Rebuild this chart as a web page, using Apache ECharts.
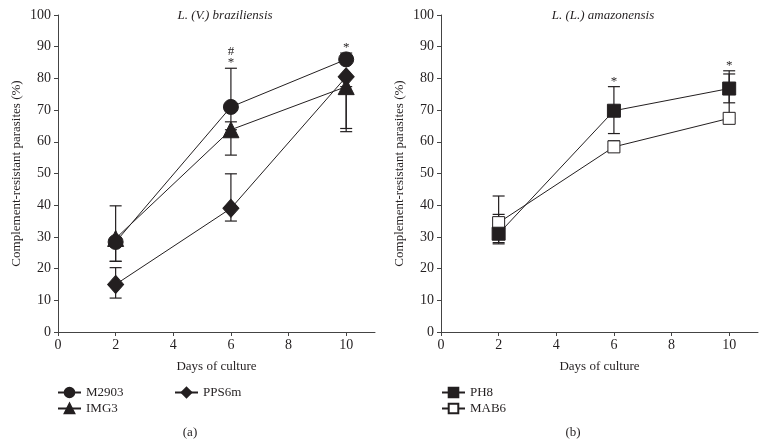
<!DOCTYPE html>
<html>
<head>
<meta charset="utf-8">
<script src="https://cdn.jsdelivr.net/npm/echarts@6/dist/echarts.min.js"></script>
<style>
html, body { margin: 0; padding: 0; background: #fff; }
#chart { width: 766px; height: 447px; }
</style>
</head>
<body>
<div id="chart"></div>
<script>
const days = [2, 6, 10];
const xTicks = [0, 2, 4, 6, 8, 10];

// (a) L. (V.) braziliensis
const m2903 = [28.4, 71, 86];
const m2903Hi = [39.8, 83.2, 88];
const m2903Lo = [22.3, 66.3, 86];
const img3 = [29.5, 63.8, 77.4];
const img3Hi = [29.5, 63.8, 77.4];
const img3Lo = [22.3, 55.8, 64.2];
const pps6m = [15, 39, 80.5];
const pps6mHi = [20.3, 49.9, 80.5];
const pps6mLo = [10.7, 35, 63.2];
const marksA = ['', '#\n*', '*'];

// (b) L. (L.) amazonensis
const ph8 = [31, 69.8, 76.8];
const ph8Hi = [37.1, 77.4, 82.4];
const ph8Lo = [28.2, 62.6, 72.3];
const mab6 = [34.5, 58.4, 67.4];
const mab6Hi = [42.9, 60.3, 81.4];
const mab6Lo = [27.8, 58.4, 67.4];
const marksB = ['', '*', '*'];

const font = "'Liberation Serif', 'DejaVu Serif', serif";
const ink = '#231f20';
const axisColor = '#444';

function pts(vals) {
  return days.map((d, i) => [d, vals[i]]);
}
function errs(lo, hi) {
  return days.map((d, i) => [d, lo[i], hi[i]]);
}
function maxHi(list) {
  return days.map((d, i) => Math.max(...list.map(a => a[i])));
}

function errRender(params, api) {
  const x = api.value(0);
  const pLo = api.coord([x, api.value(1)]);
  const pHi = api.coord([x, api.value(2)]);
  const w = 6;
  const style = { stroke: ink, lineWidth: 1.2 };
  return {
    type: 'group',
    children: [
      { type: 'line', shape: { x1: pLo[0], y1: pLo[1], x2: pHi[0], y2: pHi[1] }, style: style },
      { type: 'line', shape: { x1: pHi[0] - w, y1: pHi[1], x2: pHi[0] + w, y2: pHi[1] }, style: style },
      { type: 'line', shape: { x1: pLo[0] - w, y1: pLo[1], x2: pLo[0] + w, y2: pLo[1] }, style: style }
    ]
  };
}

function markSeries(idx, tops, marks) {
  return {
    type: 'custom', xAxisIndex: idx, yAxisIndex: idx, z: 5, silent: true,
    renderItem: function (params, api) {
      const p = api.coord([api.value(0), api.value(1)]);
      return {
        type: 'text', x: p[0], y: p[1],
        style: {
          text: marks[params.dataIndex], fill: ink, font: '13px ' + font,
          align: 'center', verticalAlign: 'bottom', lineHeight: 11
        }
      };
    },
    data: days.map((d, i) => [d, tops[i]])
  };
}

function errSeries(idx, lo, hi) {
  return {
    type: 'custom', xAxisIndex: idx, yAxisIndex: idx, z: 1, silent: true,
    renderItem: errRender, data: errs(lo, hi)
  };
}
function lineSeries(idx, name, vals, symbol, size, fill, z) {
  return {
    type: 'line', name: name, xAxisIndex: idx, yAxisIndex: idx, z: z,
    data: pts(vals), symbol: symbol, symbolSize: size, animation: false,
    lineStyle: { color: ink, width: 1 },
    itemStyle: { color: fill, borderColor: ink, borderWidth: 1 }
  };
}

function xAx(idx) {
  return {
    type: 'value', gridIndex: idx, min: 0, max: 11, interval: 2,
    name: 'Days of culture', nameLocation: 'middle', nameGap: 28,
    nameTextStyle: { fontFamily: font, fontSize: 13, color: ink },
    axisLine: { lineStyle: { color: axisColor, width: 1 } },
    axisTick: { length: 4, customValues: xTicks, lineStyle: { color: axisColor } },
    axisLabel: { customValues: xTicks, fontFamily: font, fontSize: 14, color: ink, margin: 6 },
    splitLine: { show: false }
  };
}
function yAx(idx) {
  return {
    type: 'value', gridIndex: idx, min: 0, max: 100, interval: 10,
    name: 'Complement-resistant parasites (%)', nameLocation: 'middle', nameGap: 35,
    nameTextStyle: { fontFamily: font, fontSize: 13, color: ink },
    axisLine: { show: true, lineStyle: { color: axisColor, width: 1 } },
    axisTick: { show: true, length: 4, lineStyle: { color: axisColor } },
    axisLabel: { fontFamily: font, fontSize: 14, color: ink, margin: 7 },
    splitLine: { show: false }
  };
}
function leg(name, left, top, w) {
  return {
    data: [name], left: left, top: top, itemWidth: w, itemHeight: 12,
    selectedMode: false, padding: 0,
    textStyle: { fontFamily: font, fontSize: 13, color: ink }
  };
}
function ttl(text, left, top, italic) {
  return {
    text: text, left: left, top: top, textAlign: 'center', padding: 0,
    textStyle: { fontFamily: font, fontSize: 13, fontWeight: 'normal', color: ink, fontStyle: italic ? 'italic' : 'normal' }
  };
}

const chart = echarts.init(document.getElementById('chart'));
chart.setOption({
  backgroundColor: '#fff',
  animation: false,
  title: [
    ttl('L. (V.) braziliensis', 225, 9, true),
    ttl('L. (L.) amazonensis', 603, 9, true),
    ttl('(a)', 190, 426, false),
    ttl('(b)', 573, 426, false)
  ],
  legend: [
    leg('M2903', 57, 386, 23),
    leg('IMG3', 57, 402, 23),
    leg('PPS6m', 174, 386, 23),
    leg('PH8', 441, 386, 23),
    leg('MAB6', 441, 402, 23)
  ],
  grid: [
    { left: 58, top: 15, width: 317, height: 317 },
    { left: 441, top: 15, width: 317, height: 317 }
  ],
  xAxis: [xAx(0), xAx(1)],
  yAxis: [yAx(0), yAx(1)],
  series: [
    errSeries(0, m2903Lo, m2903Hi),
    errSeries(0, img3Lo, img3Hi),
    errSeries(0, pps6mLo, pps6mHi),
    lineSeries(0, 'PPS6m', pps6m, 'diamond', [16, 18], ink, 2),
    lineSeries(0, 'IMG3', img3, 'triangle', 16, ink, 3),
    lineSeries(0, 'M2903', m2903, 'circle', 15, ink, 4),
    markSeries(0, maxHi([m2903Hi, img3Hi, pps6mHi]), marksA),
    errSeries(1, ph8Lo, ph8Hi),
    errSeries(1, mab6Lo, mab6Hi),
    lineSeries(1, 'MAB6', mab6, 'rect', 12, '#fff', 2),
    lineSeries(1, 'PH8', ph8, 'rect', 13, ink, 3),
    markSeries(1, maxHi([ph8Hi, mab6Hi]), marksB)
  ]
});
</script>
</body>
</html>
